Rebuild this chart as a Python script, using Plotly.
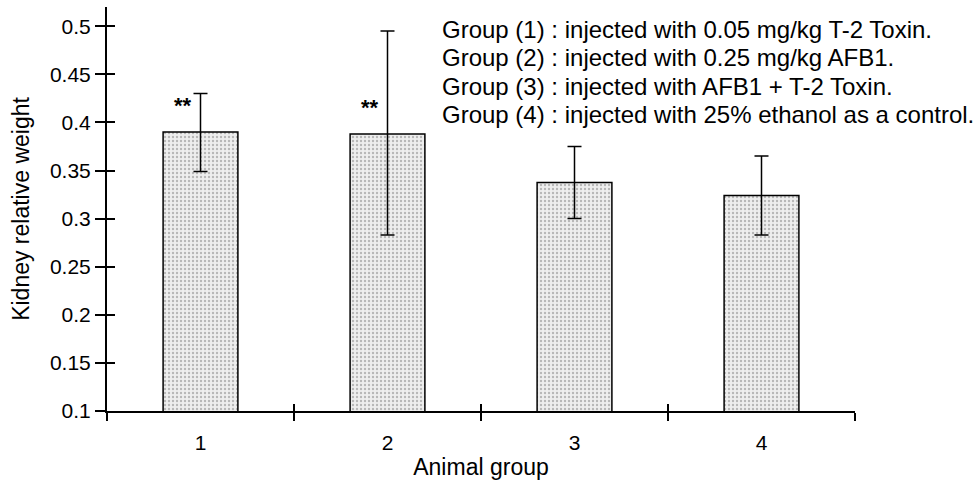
import plotly.graph_objects as go

groups = ["1", "2", "3", "4"]
means = [0.390, 0.388, 0.3375, 0.324]
err_plus = [0.040, 0.107, 0.0375, 0.041]
err_minus = [0.041, 0.105, 0.0375, 0.041]
sig_marks = ["**", "**", "", ""]
y_tickvals = [0.1, 0.15, 0.2, 0.25, 0.3, 0.35, 0.4, 0.45, 0.5]
y_ticktext = ["0.1", "0.15", "0.2", "0.25", "0.3", "0.35", "0.4", "0.45", "0.5"]
legend_lines = [
    "Group (1) : injected with 0.05 mg/kg T-2 Toxin.",
    "Group (2) : injected with 0.25 mg/kg AFB1.",
    "Group (3) : injected with AFB1 + T-2 Toxin.",
    "Group (4) : injected with 25% ethanol as a control.",
]
x_title = "Animal group"
y_title = "Kidney relative weight"

FONT = "Liberation Sans, Arial, Helvetica, sans-serif"

fig = go.Figure()
fig.add_bar(
    x=groups, y=means,
    error_y=dict(type="data", symmetric=False, array=err_plus, arrayminus=err_minus,
                 color="black", thickness=1.5, width=7),
    marker=dict(color="#eeeeee", line=dict(color="black", width=1.5),
                pattern=dict(shape=".", fgcolor="#808080", bgcolor="#eeeeee",
                             size=4, solidity=0.28)),
    showlegend=False,
)
# helper trace for the overlaid (inside-tick) axes
fig.add_scatter(x=[None], y=[None], xaxis="x2", yaxis="y2", showlegend=False,
                hoverinfo="skip")

for i, (m, s) in enumerate(zip(means, sig_marks)):
    if s:
        fig.add_annotation(xref="x", yref="y", x=i, y=m + 0.028, text="<b>" + s + "</b>",
                           showarrow=False, xshift=-18,
                           font=dict(family=FONT, size=22, color="black"))

legend_y = [0.945, 0.876, 0.804, 0.735]
for line, yy in zip(legend_lines, legend_y):
    fig.add_annotation(xref="paper", yref="paper", x=0.445, y=yy, text=line,
                       showarrow=False, xanchor="left", yanchor="middle",
                       font=dict(family=FONT, size=24, color="black"))

fig.update_layout(
    width=975, height=482,
    margin=dict(l=107, r=120, t=7, b=71),
    paper_bgcolor="white", plot_bgcolor="white",
    bargap=0.6,
    font=dict(family=FONT, color="black"),
    xaxis=dict(type="category", range=[-0.5, 3.5], tickson="boundaries",
               ticks="outside", ticklen=8, tickwidth=1.5, tickcolor="black",
               showline=True, linewidth=2, linecolor="black", showgrid=False,
               zeroline=False, tickfont=dict(family=FONT, size=21),
               ticklabelstandoff=12,
               title=dict(text=x_title, font=dict(family=FONT, size=23), standoff=6)),
    yaxis=dict(range=[0.1, 0.52], tickvals=y_tickvals, ticktext=y_ticktext,
               ticks="outside", ticklen=10, tickwidth=1.5, tickcolor="black",
               showline=True, linewidth=2, linecolor="black", showgrid=False,
               zeroline=False, tickfont=dict(family=FONT, size=21),
               title=dict(text=y_title, font=dict(family=FONT, size=23), standoff=14)),
    xaxis2=dict(overlaying="x", anchor="y2", range=[-0.5, 3.5],
                tickvals=[0.5, 1.5, 2.5, 3.5], ticks="inside", ticklen=7,
                tickwidth=1.5, tickcolor="black", showticklabels=False,
                showline=False, showgrid=False, zeroline=False, side="bottom"),
    yaxis2=dict(overlaying="y", anchor="x2", range=[0.1, 0.52], tickvals=y_tickvals,
                ticks="inside", ticklen=8, tickwidth=1.5, tickcolor="black",
                showticklabels=False, showline=False, showgrid=False, zeroline=False,
                side="left"),
)

fig.write_html("out.html")
